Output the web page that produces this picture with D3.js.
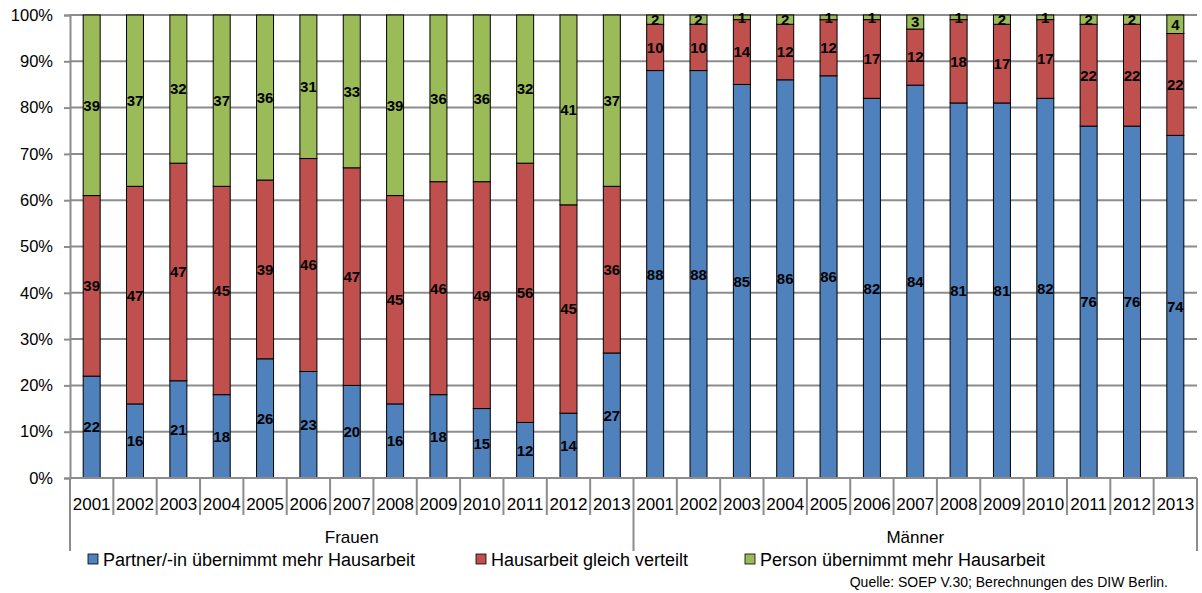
<!DOCTYPE html>
<html>
<head>
<meta charset="utf-8">
<script src="https://cdn.jsdelivr.net/npm/d3@7"></script>
<style>
  body { margin: 0; background: #fff; }
  svg { font-family: "Liberation Sans", Arial, sans-serif; }
</style>
</head>
<body>
<div id="chart"></div>
<script>
// values (percent)
const years = ["2001","2002","2003","2004","2005","2006","2007","2008","2009","2010","2011","2012","2013"];
const groups = ["Frauen", "Männer"];
const seriesNames = ["Partner/-in übernimmt mehr Hausarbeit", "Hausarbeit gleich verteilt", "Person übernimmt mehr Hausarbeit"];
const seriesColors = ["#4f81bd", "#c0504d", "#9bbb59"];

const partnerFrauen = [22, 16, 21, 18, 26, 23, 20, 16, 18, 15, 12, 14, 27];
const gleichFrauen  = [39, 47, 47, 45, 39, 46, 47, 45, 46, 49, 56, 45, 36];
const personFrauen  = [39, 37, 32, 37, 36, 31, 33, 39, 36, 36, 32, 41, 37];

const partnerMaenner = [88, 88, 85, 86, 86, 82, 84, 81, 81, 82, 76, 76, 74];
const gleichMaenner  = [10, 10, 14, 12, 12, 17, 12, 18, 17, 17, 22, 22, 22];
const personMaenner  = [2, 2, 1, 2, 1, 1, 3, 1, 2, 1, 2, 2, 4];

const yTicks = [0, .1, .2, .3, .4, .5, .6, .7, .8, .9, 1];

let rows = [];
years.forEach((yr, i) => rows.push({key: "F" + yr, year: yr, group: "Frauen", s0: partnerFrauen[i], s1: gleichFrauen[i], s2: personFrauen[i]}));
years.forEach((yr, i) => rows.push({key: "M" + yr, year: yr, group: "Männer", s0: partnerMaenner[i], s1: gleichMaenner[i], s2: personMaenner[i]}));

let width = 1202;
let height = 593;
let plotLeft = 70, plotRight = 1197, plotTop = 15, plotBottom = 478;

let svg = d3.select("#chart").append("svg").attr("width", width).attr("height", height);

let x = d3.scaleBand()
    .domain(rows.map(d => d.key))
    .range([plotLeft, plotRight])
    .paddingInner(0.608)
    .paddingOuter(0.304);

let y = d3.scaleLinear().domain([0, 1]).range([plotBottom, plotTop]);

let axisColor = "#8c8c8c";

// gridlines
svg.append("g").selectAll("line").data(yTicks).enter().append("line")
    .attr("x1", plotLeft).attr("x2", plotRight)
    .attr("y1", d => y(d)).attr("y2", d => y(d))
    .attr("stroke", axisColor).attr("stroke-width", 2);

// y axis
let yAxis = svg.append("g")
    .attr("transform", "translate(" + plotLeft + ",0)")
    .call(d3.axisLeft(y).tickValues(yTicks).tickFormat(d3.format(".0%")).tickSize(6).tickPadding(11));
yAxis.select(".domain").attr("stroke", axisColor).attr("stroke-width", 2);
yAxis.selectAll(".tick line").attr("stroke", axisColor).attr("stroke-width", 2);
yAxis.selectAll("text").attr("font-size", 16.5).attr("fill", "#000").attr("font-family", "Liberation Sans, Arial, sans-serif");

// stacked bars
let stack = d3.stack().keys(["s0", "s1", "s2"]).offset(d3.stackOffsetExpand);
let layers = stack(rows);

let bars = svg.append("g");
layers.forEach((layer, li) => {
    bars.append("g").selectAll("rect").data(layer).enter().append("rect")
        .attr("x", d => x(d.data.key))
        .attr("width", x.bandwidth())
        .attr("y", d => y(d[1]))
        .attr("height", d => y(d[0]) - y(d[1]))
        .attr("fill", seriesColors[li])
        .attr("stroke", "#000")
        .attr("stroke-width", 1);
});

// value labels
layers.forEach((layer, li) => {
    svg.append("g").selectAll("text").data(layer).enter().append("text")
        .attr("x", d => x(d.data.key) + x.bandwidth() / 2)
        .attr("y", d => (y(d[0]) + y(d[1])) / 2)
        .attr("dy", "0.36em")
        .attr("text-anchor", "middle")
        .attr("font-size", 15)
        .attr("font-weight", "bold")
        .attr("fill", "#000")
        .text(d => d.data[layer.key]);
});

// x axis line
svg.append("line")
    .attr("x1", plotLeft).attr("x2", plotRight).attr("y1", plotBottom).attr("y2", plotBottom)
    .attr("stroke", axisColor).attr("stroke-width", 2);

// category boundaries
let step = x.step();
let bounds = d3.range(rows.length + 1).map(i => plotLeft + i * step);
svg.append("g").selectAll("line").data(bounds).enter().append("line")
    .attr("x1", d => d).attr("x2", d => d)
    .attr("y1", plotBottom)
    .attr("y2", (d, i) => (i % years.length === 0) ? 551 : 515)
    .attr("stroke", axisColor).attr("stroke-width", 2);

// year labels
svg.append("g").selectAll("text").data(rows).enter().append("text")
    .attr("x", d => x(d.key) + x.bandwidth() / 2)
    .attr("y", 510)
    .attr("text-anchor", "middle")
    .attr("font-size", 17)
    .text(d => d.year);

// group labels
svg.append("g").selectAll("text").data(groups).enter().append("text")
    .attr("x", (d, i) => plotLeft + (i + 0.5) * years.length * step)
    .attr("y", 543)
    .attr("text-anchor", "middle")
    .attr("font-size", 17)
    .text(d => d);

// legend
let legendX = [88, 476, 745];
let legend = svg.append("g").selectAll("g").data(seriesNames).enter().append("g")
    .attr("transform", (d, i) => "translate(" + legendX[i] + ",554)");
legend.append("rect")
    .attr("width", 10).attr("height", 10)
    .attr("fill", (d, i) => seriesColors[i])
    .attr("stroke", "#000").attr("stroke-width", 0.8);
legend.append("text")
    .attr("x", 15).attr("y", 11.5)
    .attr("font-size", 18)
    .text(d => d);

// source
svg.append("text")
    .attr("x", 1168).attr("y", 587)
    .attr("text-anchor", "end")
    .attr("font-size", 14)
    .text("Quelle: SOEP V.30; Berechnungen des DIW Berlin.");
</script>
</body>
</html>
